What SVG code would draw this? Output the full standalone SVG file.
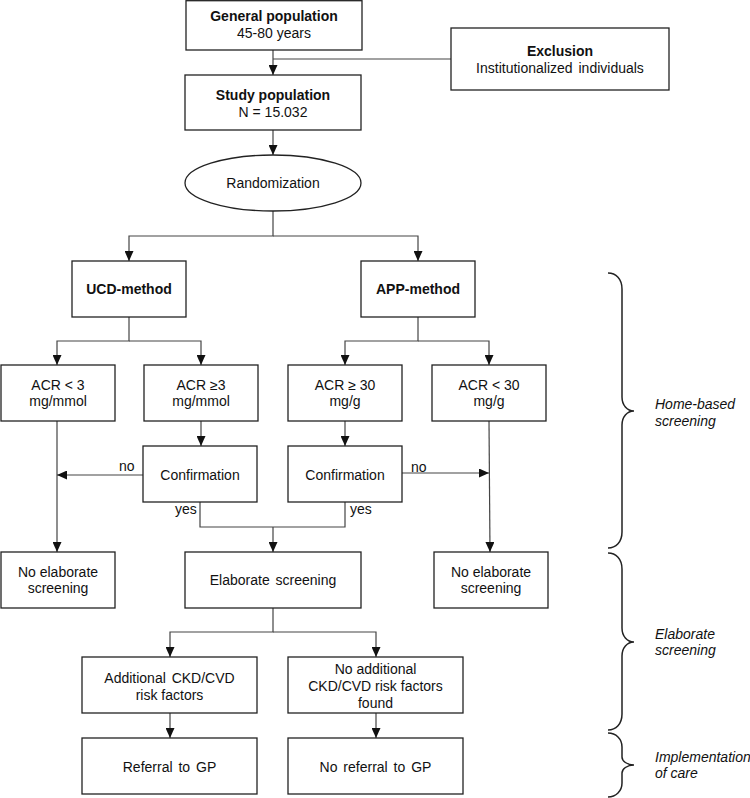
<svg xmlns="http://www.w3.org/2000/svg" width="750" height="798" viewBox="0 0 750 798">
<style>
.box{fill:#fff;stroke:#222;stroke-width:1.3}
.c{fill:none;stroke:#444;stroke-width:1.2}
.ca{fill:none;stroke:#444;stroke-width:1.2;marker-end:url(#ah)}
.br{fill:none;stroke:#222;stroke-width:1.5}
text{font-family:"Liberation Sans",Arial,sans-serif;font-size:14px;fill:#111;text-anchor:middle}
.b{font-weight:bold}
.it{font-style:italic;text-anchor:start}
.lbl{text-anchor:start}
</style>
<defs>
<marker id="ah" markerUnits="userSpaceOnUse" markerWidth="10" markerHeight="9" refX="10" refY="4.5" orient="auto">
<path d="M0,0 L10,4.5 L0,9 z" fill="#111"/>
</marker>
</defs>
<rect width="750" height="798" fill="#fff"/>
<g id="connectors">
<path class="ca" d="M273,50 V75"/>
<path class="c" d="M273,59 H451"/>
<path class="ca" d="M273,130 V155"/>
<path class="ca" d="M273,211 V236 H129 V261"/>
<path class="ca" d="M273,236 H418 V261"/>
<path class="ca" d="M129,317 V341 H57 V365"/>
<path class="ca" d="M129,341 H201 V365"/>
<path class="ca" d="M418,317 V341 H345 V365"/>
<path class="ca" d="M418,341 H489 V365"/>
<path class="ca" d="M201,421 V446"/>
<path class="ca" d="M345,421 V446"/>
<path class="ca" d="M57,421 V552"/>
<path class="ca" d="M143,475 H57"/>
<path class="ca" d="M489,421 L490,552"/>
<path class="ca" d="M402,473 H489"/>
<path class="c" d="M200,502 V527 H345 V502"/>
<path class="ca" d="M273,527 V552"/>
<path class="ca" d="M273,608 V632 H170 V657"/>
<path class="ca" d="M273,632 H376 V657"/>
<path class="ca" d="M170,713 V738"/>
<path class="ca" d="M376,713 V738"/>
<text class="lbl" x="119" y="471">no</text>
<text class="lbl" x="411" y="472">no</text>
<text class="lbl" x="175" y="514">yes</text>
<text class="lbl" x="350" y="514">yes</text>
</g>
<g id="general"><rect class="box" x="186" y="0.7" width="176" height="49.3"/><text class="b" x="274" y="21">General population</text><text x="274" y="38">45-80 years</text></g>
<g id="exclusion"><rect class="box" x="451" y="28" width="218" height="62"/><text class="b" x="560" y="56">Exclusion</text><text x="560" y="73" word-spacing="2">Institutionalized individuals</text></g>
<g id="study"><rect class="box" x="185" y="75" width="176" height="55"/><text class="b" x="273" y="100">Study population</text><text x="273" y="117">N = 15.032</text></g>
<g id="randomization"><ellipse class="box" cx="273" cy="183" rx="88" ry="28"/><text x="273" y="188">Randomization</text></g>
<g id="ucd"><rect class="box" x="72" y="261" width="114" height="56"/><text class="b" x="129" y="294">UCD-method</text></g>
<g id="app"><rect class="box" x="361" y="261" width="114" height="56"/><text class="b" x="418" y="294">APP-method</text></g>
<g id="acr-lt3"><rect class="box" x="1" y="365" width="114" height="56"/><text x="58" y="390">ACR &lt; 3</text><text x="58" y="406">mg/mmol</text></g>
<g id="acr-ge3"><rect class="box" x="144" y="365" width="114" height="56"/><text x="201" y="390">ACR ≥3</text><text x="201" y="406">mg/mmol</text></g>
<g id="acr-ge30"><rect class="box" x="288" y="365" width="114" height="56"/><text x="345" y="390">ACR ≥ 30</text><text x="345" y="406">mg/g</text></g>
<g id="acr-lt30"><rect class="box" x="432" y="365" width="114" height="56"/><text x="489" y="390">ACR &lt; 30</text><text x="489" y="406">mg/g</text></g>
<g id="confirm-left"><rect class="box" x="143" y="446" width="114" height="56"/><text x="200" y="480">Confirmation</text></g>
<g id="confirm-right"><rect class="box" x="288" y="446" width="114" height="56"/><text x="345" y="480">Confirmation</text></g>
<g id="noelab-left"><rect class="box" x="1" y="552" width="114" height="56"/><text x="58" y="577">No elaborate</text><text x="58" y="593">screening</text></g>
<g id="elab"><rect class="box" x="185" y="552" width="176" height="56"/><text x="273" y="585" word-spacing="2">Elaborate screening</text></g>
<g id="noelab-right"><rect class="box" x="434" y="552" width="114" height="56"/><text x="491" y="577">No elaborate</text><text x="491" y="593">screening</text></g>
<g id="additional"><rect class="box" x="82" y="657" width="175" height="56"/><text x="169.5" y="683" word-spacing="2">Additional CKD/CVD</text><text x="169.5" y="700">risk factors</text></g>
<g id="noadditional"><rect class="box" x="288" y="657" width="175" height="56"/><text x="375.5" y="674">No additional</text><text x="375.5" y="691">CKD/CVD risk factors</text><text x="375.5" y="708">found</text></g>
<g id="referral"><rect class="box" x="82" y="738" width="175" height="56"/><text x="169.5" y="772" word-spacing="2">Referral to GP</text></g>
<g id="noreferral"><rect class="box" x="288" y="738" width="175" height="56"/><text x="375.5" y="772" word-spacing="2">No referral to GP</text></g>
<g id="phases">
<path class="br" d="M608,273 C616,273 622,279 622,289 L622,397 C622,405 627,411 634,411 C627,411 622,417 622,425 L622,532 C622,542 616,548 608,548"/>
<path class="br" d="M608,553 C616,553 622,559 622,569 L622,628 C622,636 627,642 634,642 C627,642 622,648 622,656 L622,714 C622,724 616,730 608,730"/>
<path class="br" d="M608,733 C616,733 622,739 622,747 L622,757 C622,761 627,765 634,765 C627,765 622,769 622,773 L622,783 C622,791 616,797 608,797"/>
<text class="it" x="655" y="409">Home-based</text><text class="it" x="655" y="426">screening</text>
<text class="it" x="655" y="639">Elaborate</text><text class="it" x="655" y="655">screening</text>
<text class="it" x="655" y="762">Implementation</text><text class="it" x="655" y="778">of care</text>
</g>
</svg>
